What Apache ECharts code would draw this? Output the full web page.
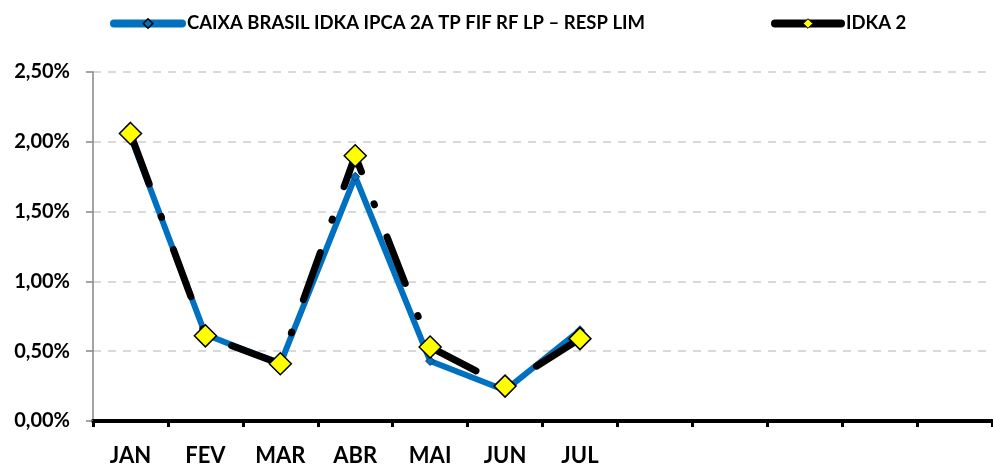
<!DOCTYPE html>
<html>
<head>
<meta charset="utf-8">
<script src="https://cdn.jsdelivr.net/npm/echarts@6/dist/echarts.min.js"></script>
<style>
html,body{margin:0;padding:0;background:#fff;}
#chart{width:993px;height:467px;}
</style>
</head>
<body>
<div id="chart"></div>
<script>
var months = ['JAN','FEV','MAR','ABR','MAI','JUN','JUL','','','','',''];
var fundName = 'CAIXA BRASIL IDKA IPCA 2A TP FIF RF LP – RESP LIM';
var benchName = 'IDKA 2';
// rentabilidade mensal (%)
var fundValues = [2.04, 0.62, 0.41, 1.75, 0.43, 0.22, 0.65];
var benchValues = [2.06, 0.61, 0.41, 1.90, 0.53, 0.25, 0.59];
var yTicks = [0, 0.5, 1, 1.5, 2, 2.5];

var font = 'Lato';
var legendText = {fontFamily: font, fontWeight: 'bold', fontSize: 18.5, color: '#000'};

var chart = echarts.init(document.getElementById('chart'));
var option = {
    animation: false,
    backgroundColor: '#fff',
    legend: [{
        left: 105,
        top: 9,
        data: [fundName],
        itemWidth: 68,
        itemHeight: 12,
        lineStyle: {width: 8, cap: 'round', type: 'solid'},
        itemStyle: {borderColor: '#000', borderWidth: 1.5},
        textStyle: legendText
    }, {
        left: 766,
        top: 9,
        data: [benchName],
        itemWidth: 66,
        itemHeight: 12,
        lineStyle: {width: 8, cap: 'round', type: 'solid'},
        itemStyle: {borderColor: '#000', borderWidth: 1},
        textStyle: legendText
    }],
    grid: {
        left: 93,
        right: 1,
        top: 72,
        bottom: 45
    },
    xAxis: {
        type: 'category',
        data: months,
        boundaryGap: true,
        axisLine: {lineStyle: {color: '#000', width: 4}},
        axisTick: {show: true, length: 6, lineStyle: {color: '#000', width: 3}},
        axisLabel: {
            margin: 24,
            interval: 0,
            fontFamily: font,
            fontWeight: 'bold',
            fontSize: 22,
            color: '#000'
        },
        splitLine: {show: false}
    },
    yAxis: {
        type: 'value',
        min: yTicks[0],
        max: yTicks[yTicks.length - 1],
        interval: 0.5,
        axisLine: {show: true, lineStyle: {color: '#868686', width: 1.5}},
        axisTick: {show: true, length: 7, lineStyle: {color: '#868686', width: 1.5}},
        axisLabel: {
            margin: 23,
            fontFamily: font,
            fontWeight: 'bold',
            fontSize: 20,
            color: '#000',
            formatter: function (v) {
                return v.toFixed(2).replace('.', ',') + '%';
            }
        },
        splitLine: {lineStyle: {color: '#d9d9d9', width: 2, type: [8, 7]}}
    },
    series: [{
        name: fundName,
        type: 'line',
        data: fundValues,
        z: 2,
        symbol: 'diamond',
        symbolSize: 9,
        lineStyle: {color: '#0070C0', width: 6, cap: 'round', join: 'round'},
        itemStyle: {color: '#0070C0', borderColor: '#1F3864', borderWidth: 1}
    }, {
        name: benchName,
        type: 'line',
        data: benchValues,
        z: 3,
        symbol: 'diamond',
        symbolSize: 22,
        // traço longo - ponto
        lineStyle: {color: '#000', width: 7, type: [50, 34.5, 1, 34.5], dashOffset: -4, cap: 'round', join: 'round'},
        itemStyle: {color: '#FFFF00', borderColor: '#000', borderWidth: 1.5}
    }]
};
chart.setOption(option);
</script>
</body>
</html>
